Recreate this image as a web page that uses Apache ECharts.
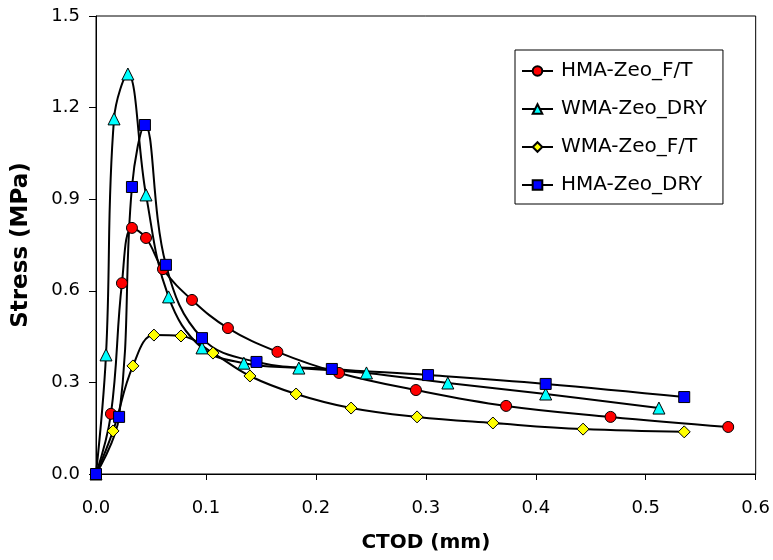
<!DOCTYPE html>
<html>
<head>
<meta charset="utf-8">
<script src="https://cdn.jsdelivr.net/npm/echarts@6/dist/echarts.min.js"></script>
<style>html,body{margin:0;padding:0;background:#fff;}#c{width:773px;height:560px;}</style>
</head>
<body>
<div id="c"></div>
<script>
const seriesNames = ['HMA-Zeo_F/T', 'WMA-Zeo_DRY', 'WMA-Zeo_F/T', 'HMA-Zeo_DRY'];

const hmaFtX = [0, 0.0136, 0.0236, 0.0327, 0.0455, 0.0609, 0.0873, 0.120, 0.165, 0.221, 0.291, 0.373, 0.468, 0.575];
const hmaFtY = [0, 0.197, 0.625, 0.806, 0.773, 0.671, 0.570, 0.478, 0.400, 0.331, 0.275, 0.223, 0.187, 0.154];

const wmaDryX = [0, 0.0091, 0.0164, 0.029, 0.0455, 0.066, 0.0964, 0.1345, 0.1845, 0.246, 0.320, 0.409, 0.512];
const wmaDryY = [0, 0.390, 1.163, 1.310, 0.914, 0.580, 0.413, 0.363, 0.347, 0.331, 0.298, 0.262, 0.216];

const wmaFtX = [0, 0.0155, 0.0336, 0.0527, 0.0773, 0.1064, 0.140, 0.182, 0.232, 0.292, 0.361, 0.443, 0.535];
const wmaFtY = [0, 0.141, 0.354, 0.455, 0.452, 0.396, 0.321, 0.262, 0.216, 0.187, 0.167, 0.147, 0.138];

const hmaDryX = [0, 0.021, 0.0327, 0.0445, 0.0636, 0.0964, 0.146, 0.2145, 0.302, 0.409, 0.535];
const hmaDryY = [0, 0.187, 0.940, 1.143, 0.685, 0.445, 0.367, 0.344, 0.324, 0.295, 0.252];

const xTicks = [0, 0.1, 0.2, 0.3, 0.4, 0.5, 0.6];
const yTicks = [0, 0.3, 0.6, 0.9, 1.2, 1.5];

const pairs = (xs, ys) => xs.map((x, i) => [x, ys[i]]);

const styles = [
  { symbol: 'circle', color: '#ff0000', size: 11 },
  { symbol: 'triangle', color: '#00ffff', size: 12 },
  { symbol: 'diamond', color: '#ffff00', size: 12 },
  { symbol: 'rect', color: '#0000ff', size: 11 }
];
const datasets = [pairs(hmaFtX, hmaFtY), pairs(wmaDryX, wmaDryY), pairs(wmaFtX, wmaFtY), pairs(hmaDryX, hmaDryY)];

const chart = echarts.init(document.getElementById('c'), null, { renderer: 'canvas' });
chart.setOption({
  animation: false,
  backgroundColor: '#fff',
  textStyle: { fontFamily: 'DejaVu Sans', color: '#000' },
  grid: { left: 96, right: 17, top: 16, bottom: 86, show: true, borderColor: '#000', borderWidth: 1 },
  legend: {
    orient: 'vertical',
    left: 515, top: 50,
    padding: [11, 16, 9, 6],
    borderColor: '#000', borderWidth: 1,
    itemWidth: 31, itemHeight: 12, itemGap: 18,
    textStyle: { fontFamily: 'DejaVu Sans', fontSize: 20, color: '#000', padding: [0, 0, 0, 3] },
    data: seriesNames
  },
  xAxis: {
    type: 'value', min: xTicks[0], max: xTicks[xTicks.length - 1], interval: 0.1,
    name: 'CTOD (mm)', nameLocation: 'middle', nameGap: 59,
    nameTextStyle: { fontFamily: 'DejaVu Sans', fontWeight: 'bold', fontSize: 20, color: '#000' },
    axisLine: { lineStyle: { color: '#000', width: 1 } },
    axisTick: { show: true, length: 6, lineStyle: { color: '#000' } },
    axisLabel: { fontSize: 18, color: '#000', margin: 25, formatter: v => v.toFixed(1) },
    splitLine: { show: false }
  },
  yAxis: {
    type: 'value', min: yTicks[0], max: yTicks[yTicks.length - 1], interval: 0.3,
    name: 'Stress (MPa)', nameLocation: 'middle', nameGap: 63, nameRotate: 90,
    nameTextStyle: { fontFamily: 'DejaVu Sans', fontWeight: 'bold', fontSize: 23, color: '#000' },
    axisLine: { lineStyle: { color: '#000', width: 1 } },
    axisTick: { show: true, length: 7, lineStyle: { color: '#000' } },
    axisLabel: { fontSize: 18, color: '#000', margin: 16, formatter: v => v.toFixed(1) },
    splitLine: { show: false }
  },
  series: seriesNames.map((n, i) => ({
    name: n,
    type: 'line',
    data: datasets[i],
    smooth: 0.4,
    symbol: styles[i].symbol,
    symbolSize: styles[i].size,
    showAllSymbol: true,
    lineStyle: { color: '#000', width: 2 },
    itemStyle: { color: styles[i].color, borderColor: '#000', borderWidth: 1 },
    emphasis: { disabled: true }
  }))
});
</script>
</body>
</html>
